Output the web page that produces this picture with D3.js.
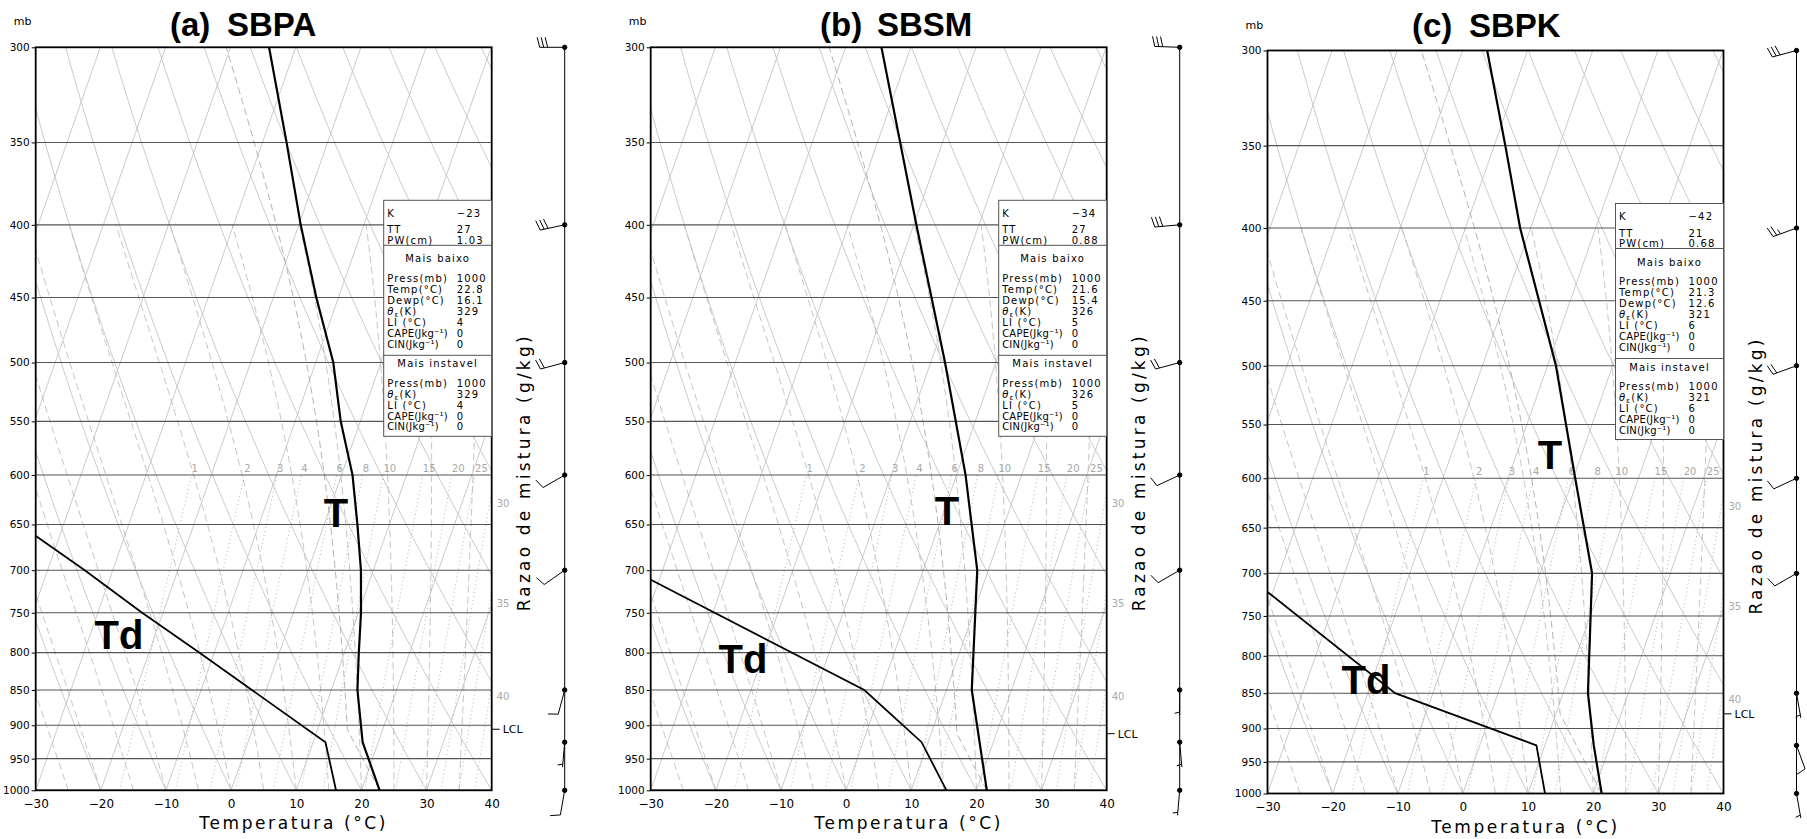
<!DOCTYPE html>
<html>
<head>
<meta charset="utf-8">
<script src="https://cdn.jsdelivr.net/npm/d3@7"></script>
<style>
body { margin: 0; background: #fff; }
svg { display: block; font-family: "DejaVu Sans", sans-serif; }
</style>
</head>
<body>
<script>
var panelTags = ["(a)", "(b)", "(c)"];
var stations = ["SBPA", "SBSM", "SBPK"];

var sbpaP   = [1000, 925, 850, 800, 750, 700, 650, 600, 550, 500, 450, 400, 350, 300];
var sbpaT   = [22.8, 17.6, 14.0, 12.2, 10.4, 8.1, 5.1, 1.7, -3.0, -7.3, -13.4, -19.7, -26.3, -34.1];
var sbpaTdP = [1000, 925, 850, 800, 750, 700, 662];
var sbpaTd  = [16.1, 11.9, -2.2, -12.3, -23.2, -34.3, -43.7];

var sbsmP   = [1000, 925, 850, 700, 600, 500, 400, 300];
var sbsmT   = [21.6, 17.9, 13.9, 8.3, 1.4, -7.8, -19.6, -34.5];
var sbsmTdP = [1000, 925, 850, 711];
var sbsmTd  = [15.4, 9.0, -2.6, -41.3];

var sbpkP   = [1000, 925, 850, 700, 600, 500, 400, 350, 300];
var sbpkT   = [21.3, 17.5, 13.8, 8.0, 0.3, -8.7, -21.6, -28.3, -36.2];
var sbpkTdP = [1000, 925, 850, 721];
var sbpkTd  = [12.6, 8.7, -15.8, -40.9];

// wind barbs
var barbP    = [300, 400, 500, 600, 700, 850, 925, 1000];
var sbpaDir  = [270, 258, 255, 240, 235, 195, 185, 190];
var sbpaSpd  = [30, 30, 20, 10, 10, 10, 5, 10];
var sbsmDir  = [272, 265, 255, 245, 240, 180, 175, 185];
var sbsmSpd  = [30, 30, 20, 10, 10, 5, 5, 5];
var sbpkDir  = [255, 250, 250, 245, 240, 170, 160, 170];
var sbpkSpd  = [30, 25, 20, 10, 10, 5, 10, 5];

// index box
var idxLabels  = ["K", "TT", "PW(cm)"];
var sbpaIdx    = ["\u221223", "27", "1.03"];
var sbsmIdx    = ["\u221234", "27", "0.88"];
var sbpkIdx    = ["\u221242", "21", "0.68"];
var lowLabels  = ["Press(mb)", "Temp(\u00b0C)", "Dewp(\u00b0C)", "THE", "LI (\u00b0C)", "CAPE(Jkg\u207b\u00b9)", "CIN(Jkg\u207b\u00b9)"];
var sbpaLow    = ["1000", "22.8", "16.1", "329", "4", "0", "0"];
var sbsmLow    = ["1000", "21.6", "15.4", "326", "5", "0", "0"];
var sbpkLow    = ["1000", "21.3", "12.6", "321", "6", "0", "0"];
var mostLabels = ["Press(mb)", "THE", "LI (\u00b0C)", "CAPE(Jkg\u207b\u00b9)", "CIN(Jkg\u207b\u00b9)"];
var sbpaMost   = ["1000", "329", "4", "0", "0"];
var sbsmMost   = ["1000", "326", "5", "0", "0"];
var sbpkMost   = ["1000", "321", "6", "0", "0"];

// chart furniture
var pressTicks = d3.range(300, 1001, 50);
var tempTicks  = d3.range(-30, 41, 10);
var mixLines   = [1, 2, 3, 4, 6, 8, 10, 15, 20, 25, 30, 35, 40];

var soundings = [
  {P: sbpaP, T: sbpaT, TdP: sbpaTdP, Td: sbpaTd, dir: sbpaDir, spd: sbpaSpd, idx: sbpaIdx, low: sbpaLow, most: sbpaMost},
  {P: sbsmP, T: sbsmT, TdP: sbsmTdP, Td: sbsmTd, dir: sbsmDir, spd: sbsmSpd, idx: sbsmIdx, low: sbsmLow, most: sbsmMost},
  {P: sbpkP, T: sbpkT, TdP: sbpkTdP, Td: sbpkTd, dir: sbpkDir, spd: sbpkSpd, idx: sbpkIdx, low: sbpkLow, most: sbpkMost}
];

// layout
var layout = [
  {left: 35.7,   top: 47.3, titleX: 170,  titleY: 36, tLab: [336, 513],  tdLab: [119, 635]},
  {left: 650.7,  top: 47.3, titleX: 820,  titleY: 36, tLab: [947, 511],  tdLab: [743, 659]},
  {left: 1267.5, top: 50.5, titleX: 1412, titleY: 37, tLab: [1550, 455], tdLab: [1366, 680]}
];
var PW = 456, PH = 743, skewK = 0.35;

var svg = d3.select("body").append("svg").attr("width", 1807).attr("height", 839);
var defs = svg.append("defs");

// thermodynamics for the background lines
function esat(tc) { return 6.112 * Math.exp(17.67 * tc / (tc + 243.5)); }
function tdFromE(e) { var a = Math.log(e / 6.112); return 243.5 * a / (17.67 - a); }
function tdMix(w, p) { return tdFromE(w * p / 622); }
function moistRate(tk, p) {
  var Rd = 287.04, Cp = 1005.7, Lv = 2.501e6, eps = 0.622;
  var es = esat(tk - 273.15), rs = eps * es / (p - es);
  return (Rd * tk + Lv * rs) / (Cp + Lv * Lv * rs * eps / (Rd * tk * tk)) / p;
}
function moistCurve(tc, p0, pEnd) {
  var pts = [[p0, tc]], tk = tc + 273.15, p = p0;
  while (p > pEnd) {
    var dp = -Math.min(5, p - pEnd);
    var k1 = moistRate(tk, p), k2 = moistRate(tk + k1 * dp / 2, p + dp / 2);
    tk += k2 * dp; p += dp;
    pts.push([p, tk - 273.15]);
  }
  return pts;
}
function dryCurve(thc, p0, p1) {
  var pts = d3.range(p0, p1, -5).concat([p1]);
  return pts.map(function(p){ return [p, (thc + 273.15) * Math.pow(p / 1000, 0.2857) - 273.15]; });
}
function lcl(tc, tdc) {
  var t = tc + 273.15, td = tdc + 273.15;
  var tl = 1 / (1 / (td - 56) + Math.log(t / td) / 800) + 56;
  return [1000 * Math.pow(tl / t, 1 / 0.2857), tl - 273.15];
}

function barb(gb, x0, y0, dir, spd) {
  var a = dir * Math.PI / 180;
  var ux = Math.sin(a), uy = -Math.cos(a);
  var vx = -uy, vy = ux, Ls = 25, fl = 10;
  gb.append("line").attr("x1", x0).attr("y1", y0).attr("x2", x0 + ux * Ls).attr("y2", y0 + uy * Ls);
  var n10 = Math.floor(spd / 10), n5 = Math.round((spd - n10 * 10) / 5);
  var pos = Ls;
  for (var k = 0; k < n10; k++) {
    var bx = x0 + ux * pos, by = y0 + uy * pos;
    gb.append("line").attr("x1", bx).attr("y1", by)
      .attr("x2", bx + vx * fl + ux * 2.5).attr("y2", by + vy * fl + uy * 2.5);
    pos -= 4;
  }
  if (n5) {
    if (n10 === 0) pos -= 3;
    var hx = x0 + ux * pos, hy = y0 + uy * pos;
    gb.append("line").attr("x1", hx).attr("y1", hy)
      .attr("x2", hx + vx * fl * 0.5 + ux * 1.3).attr("y2", hy + vy * fl * 0.5 + uy * 1.3);
  }
  gb.append("circle").attr("cx", x0).attr("cy", y0).attr("r", 2.2).attr("fill", "#000");
}

function thetaLabel(sel) {
  sel.append("tspan").attr("font-style", "italic").text("\u03b8");
  sel.append("tspan").attr("font-size", 7).attr("dy", 2).text("\u03b5");
  sel.append("tspan").attr("dy", -2).text("(K)");
}

function drawPanel(i) {
  var cfg = layout[i], d = soundings[i];
  var L = cfg.left, T = cfg.top, R = L + PW, B = T + PH;
  var y = d3.scaleLog().domain([1000, 300]).range([B, T]);
  var xt = d3.scaleLinear().domain([-30, 40]).range([L, R]);
  function px(tc, p) { return xt(tc) + skewK * (B - y(p)); }
  var line = d3.line().x(function(q){ return px(q[1], q[0]); }).y(function(q){ return y(q[0]); });

  var clipId = "clip" + i;
  defs.append("clipPath").attr("id", clipId).append("rect")
    .attr("x", L).attr("y", T).attr("width", PW).attr("height", PH);

  var g = svg.append("g");
  var grid = g.append("g").attr("clip-path", "url(#" + clipId + ")").attr("fill", "none");

  // isotherms
  grid.selectAll(".iso").data(d3.range(-110, 41, 10)).enter().append("path")
    .attr("d", function(t){ return line([[1000, t], [300, t]]); })
    .attr("stroke", "#c4c4c4").attr("stroke-width", 0.9);
  // dry adiabats
  grid.selectAll(".dry").data(d3.range(-30, 171, 10)).enter().append("path")
    .attr("d", function(t){ return line(dryCurve(t, 1000, 300)); })
    .attr("stroke", "#c4c4c4").attr("stroke-width", 0.9);
  // moist adiabats
  grid.selectAll(".wet").data(d3.range(-25, 36, 5)).enter().append("path")
    .attr("d", function(t){ return line(moistCurve(t, 1000, 400)); })
    .attr("stroke", "#bdbdbd").attr("stroke-width", 0.9).attr("stroke-dasharray", "7,4");
  // mixing ratio lines
  grid.selectAll(".mix").data(mixLines).enter().append("path")
    .attr("d", function(w){ return line(d3.range(1000, 599, -20).map(function(p){ return [p, tdMix(w, p)]; })); })
    .attr("stroke", "#b0b0b0").attr("stroke-width", 1).attr("stroke-dasharray", "1,3");

  // parcel path
  var lc = lcl(d.T[0], d.Td[0]);
  var parcel = dryCurve(d.T[0], 1000, lc[0]).concat(moistCurve(lc[1], lc[0], 300).slice(1));
  grid.append("path").attr("d", line(parcel))
    .attr("stroke", "#aaa").attr("stroke-width", 0.9).attr("stroke-dasharray", "7,4");

  // isobars
  grid.selectAll(".isobar").data(pressTicks).enter().append("line")
    .attr("x1", L).attr("x2", R).attr("y1", function(p){ return y(p); }).attr("y2", function(p){ return y(p); })
    .attr("stroke", "#555").attr("stroke-width", 1.1);

  // mixing ratio labels
  var mixG = g.append("g").attr("font-size", 10).attr("fill", "#a8a8a8");
  mixLines.forEach(function(w) {
    var xTop = px(tdMix(w, 600), 600);
    if (xTop < R - 8) {
      mixG.append("text").attr("x", xTop).attr("y", y(600) - 3.3).text(w);
    } else {
      var lo = 600, hi = 1000;
      for (var k = 0; k < 40; k++) {
        var mid = (lo + hi) / 2;
        if (px(tdMix(w, mid), mid) > R) lo = mid; else hi = mid;
      }
      mixG.append("text").attr("x", R + 5).attr("y", y(hi) + 16).text(w);
    }
  });

  // profiles
  var prof = g.append("g").attr("clip-path", "url(#" + clipId + ")").attr("fill", "none").attr("stroke", "#000");
  prof.append("path").attr("d", line(d.P.map(function(p, k){ return [p, d.T[k]]; }))).attr("stroke-width", 2.2);
  prof.append("path").attr("d", line(d.TdP.map(function(p, k){ return [p, d.Td[k]]; }))).attr("stroke-width", 1.8);

  // border
  g.append("rect").attr("x", L).attr("y", T).attr("width", PW).attr("height", PH)
    .attr("fill", "none").attr("stroke", "#000").attr("stroke-width", 1.8);

  // pressure axis
  var yAxis = d3.axisLeft(y).tickValues(pressTicks).tickSize(4).tickPadding(2).tickFormat(d3.format("d"));
  var ya = g.append("g").attr("transform", "translate(" + L + ",0)").call(yAxis);
  ya.select(".domain").remove();
  ya.selectAll("text").attr("font-size", 10.5).attr("font-family", "DejaVu Sans").attr("fill", "#000");
  ya.selectAll("line").attr("stroke", "#000");

  // temperature axis
  var xAxis = d3.axisBottom(xt).tickValues(tempTicks).tickSize(0).tickPadding(9).tickFormat(d3.format("d"));
  var xa = g.append("g").attr("transform", "translate(0," + B + ")").call(xAxis);
  xa.select(".domain").remove();
  xa.selectAll("text").attr("font-size", 12).attr("font-family", "DejaVu Sans").attr("fill", "#000");

  g.append("text").attr("x", L - 22).attr("y", T - 22).attr("font-size", 11).text("mb");
  g.append("text").attr("x", L + 258).attr("y", B + 39).attr("text-anchor", "middle")
    .attr("font-size", 17).attr("letter-spacing", 2.6).text("Temperatura (\u00b0C)");
  g.append("text").attr("transform", "translate(" + (R + 38) + "," + (T + 425) + ") rotate(-90)")
    .attr("text-anchor", "middle").attr("font-size", 17).attr("letter-spacing", 3.2)
    .text("Razao de mistura (g/kg)");

  // LCL
  var yl = y(lc[0]);
  g.append("line").attr("x1", R).attr("x2", R + 8).attr("y1", yl).attr("y2", yl).attr("stroke", "#000");
  g.append("text").attr("x", R + 11).attr("y", yl + 4).attr("font-size", 11).text("LCL");

  // title
  g.append("text").attr("x", cfg.titleX).attr("y", cfg.titleY)
    .attr("font-family", "Liberation Sans, Arial, sans-serif").attr("font-weight", "bold").attr("font-size", 33)
    .text(panelTags[i]);
  g.append("text").attr("x", cfg.titleX + 57).attr("y", cfg.titleY)
    .attr("font-family", "Liberation Sans, Arial, sans-serif").attr("font-weight", "bold").attr("font-size", 33)
    .text(stations[i]);

  // big T / Td labels
  [["T", cfg.tLab], ["Td", cfg.tdLab]].forEach(function(lab) {
    g.append("text").attr("x", lab[1][0]).attr("y", lab[1][1] + 14).attr("text-anchor", "middle")
      .attr("font-family", "Liberation Sans, Arial, sans-serif").attr("font-weight", "bold")
      .attr("font-size", 40).text(lab[0]);
  });

  // index box
  var bx = L + 348, bw = R - bx, by = T + 153;
  var box = g.append("g");
  box.append("rect").attr("x", bx).attr("y", by).attr("width", bw).attr("height", 236)
    .attr("fill", "#fff").attr("stroke", "#555").attr("stroke-width", 1);
  [45, 155].forEach(function(dy) {
    box.append("line").attr("x1", bx).attr("x2", R).attr("y1", by + dy).attr("y2", by + dy)
      .attr("stroke", "#555").attr("stroke-width", 1);
  });
  var tx = box.append("g").attr("font-size", 10).attr("letter-spacing", 1.2).attr("fill", "#000");
  function row(label, val, yy) {
    var t = tx.append("text").attr("x", bx + 3.5).attr("y", yy + 3.5);
    if (label === "THE") thetaLabel(t); else t.text(label);
    if (label.length > 9) t.attr("letter-spacing", 0.2);
    tx.append("text").attr("x", bx + 73).attr("y", yy + 3.5).text(val);
  }
  var topRows = [12.7, 29.5, 39.8];
  idxLabels.forEach(function(lbl, k){ row(lbl, d.idx[k], by + topRows[k]); });
  tx.append("text").attr("x", bx + bw / 2).attr("y", by + 62).attr("text-anchor", "middle").text("Mais baixo");
  lowLabels.forEach(function(lbl, k){ row(lbl, d.low[k], by + 78.3 + k * 10.9); });
  tx.append("text").attr("x", bx + bw / 2).attr("y", by + 167).attr("text-anchor", "middle").text("Mais instavel");
  mostLabels.forEach(function(lbl, k){ row(lbl, d.most[k], by + 183 + k * 10.9); });

  // wind barbs
  var ax = R + 73;
  var gb = g.append("g").attr("stroke", "#000").attr("stroke-width", 1).attr("fill", "none");
  gb.append("line").attr("x1", ax).attr("x2", ax).attr("y1", y(300)).attr("y2", y(1000));
  barbP.forEach(function(p, k){ barb(gb, ax, y(p), d.dir[k], d.spd[k]); });
}

[0, 1, 2].forEach(drawPanel);
</script>
</body>
</html>
